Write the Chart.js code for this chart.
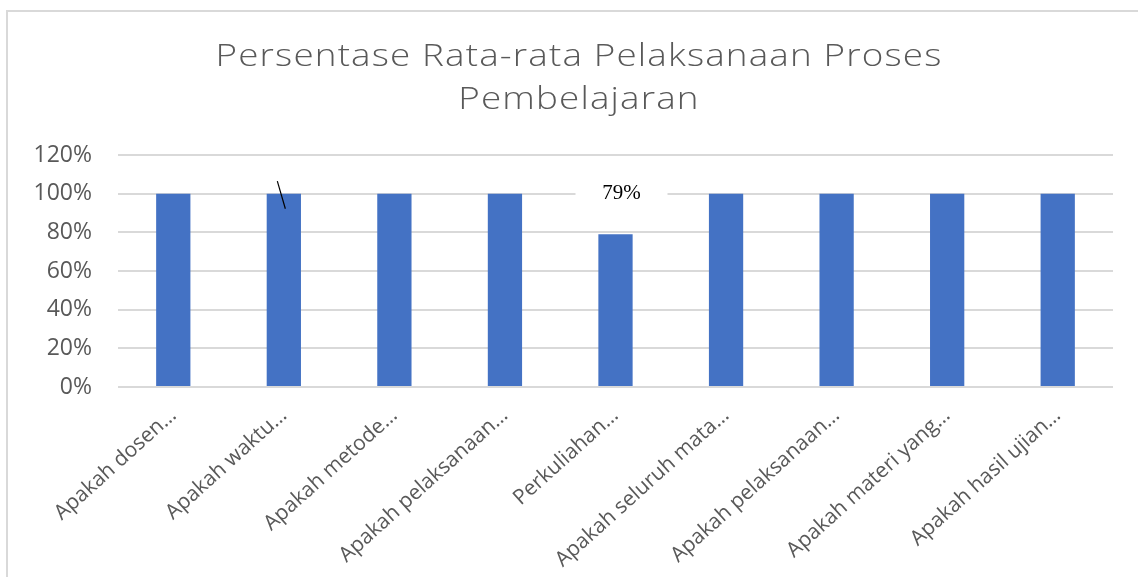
<!DOCTYPE html>
<html>
<head>
<meta charset="utf-8">
<script src="https://cdn.jsdelivr.net/npm/chart.js@4.4.1/dist/chart.umd.min.js"></script>
<style>
  html, body { margin: 0; padding: 0; background: #ffffff; }
  #wrap { position: relative; width: 1138px; height: 577px; overflow: hidden; }
  #frame { position: absolute; left: 6px; top: 10px; width: 1200px; height: 600px;
           border-top: 2px solid #d9d9d9; border-left: 2px solid #d9d9d9; box-sizing: border-box; }
  canvas { position: absolute; left: 0; top: 0; }
</style>
</head>
<body>
<div id="wrap">
  <div id="frame"></div>
  <canvas id="c" width="1138" height="577"></canvas>
</div>
<script>
const titleLines = ['Persentase Rata-rata Pelaksanaan Proses', 'Pembelajaran'];
const categories = [
  'Apakah dosen\u2026',
  'Apakah waktu\u2026',
  'Apakah metode\u2026',
  'Apakah pelaksanaan\u2026',
  'Perkuliahan\u2026',
  'Apakah seluruh mata\u2026',
  'Apakah pelaksanaan\u2026',
  'Apakah materi yang\u2026',
  'Apakah hasil ujian\u2026'
];
const values = [1.00, 1.00, 1.00, 1.00, 0.79, 1.00, 1.00, 1.00, 1.00];
const yTicks = [0, 0.2, 0.4, 0.6, 0.8, 1.0, 1.2];
const labelledBars = [4];

const fmtPct = v => Math.round(v * 100) + '%';

const titleDraw = {
  id: 'titleDraw',
  afterDraw(chart) {
    const ctx = chart.ctx;
    ctx.save();
    ctx.fillStyle = '#595959';
    ctx.font = '300 32px "Open Sans"';
    ctx.letterSpacing = '1px';
    ctx.textAlign = 'center';
    ctx.textBaseline = 'alphabetic';
    ctx.translate(579, 0);
    ctx.scale(1.15, 1);
    titleLines.forEach((t, i) => ctx.fillText(t, 0, 66 + i * 43));
    ctx.restore();
  }
};

const annotate = {
  id: 'annotate',
  afterDatasetsDraw(chart) {
    const ctx = chart.ctx;
    const y = chart.scales.y;
    const meta = chart.getDatasetMeta(0);
    // stray stroke next to the second bar
    const b1 = meta.data[1];
    ctx.save();
    ctx.strokeStyle = '#000000';
    ctx.lineWidth = 1.2;
    ctx.beginPath();
    ctx.moveTo(b1.x - 6.5, y.getPixelForValue(1.065));
    ctx.lineTo(b1.x + 1.5, y.getPixelForValue(0.922));
    ctx.stroke();
    ctx.restore();
    // data label(s)
    labelledBars.forEach(i => {
      const bar = meta.data[i];
      const cx = bar.x + 6;
      const cy = y.getPixelForValue(Math.max(...values));
      ctx.save();
      ctx.fillStyle = '#ffffff';
      ctx.fillRect(cx - 46, cy - 13, 92, 26);
      ctx.fillStyle = '#000000';
      ctx.font = '21px "Liberation Serif", "Times New Roman", serif';
      ctx.textAlign = 'center';
      ctx.textBaseline = 'middle';
      ctx.fillText(fmtPct(values[i]), cx, cy);
      ctx.restore();
    });
  }
};

new Chart(document.getElementById('c'), {
  type: 'bar',
  data: {
    labels: categories,
    datasets: [{
      data: values,
      backgroundColor: '#4472c4',
      borderWidth: 0,
      categoryPercentage: 1.0,
      barPercentage: 0.31
    }]
  },
  options: {
    responsive: false,
    animation: false,
    events: [],
    layout: { padding: { left: 0, right: 25, top: 155, bottom: 0 } },
    plugins: {
      legend: { display: false },
      tooltip: { enabled: false },
      title: { display: false }
    },
    scales: {
      y: {
        min: 0,
        max: 1.2,
        afterBuildTicks: s => { s.ticks = yTicks.map(v => ({ value: v })); },
        afterFit: s => { s.width = 118; },
        ticks: {
          callback: v => fmtPct(v),
          color: '#595959',
          font: { family: '"Open Sans"', size: 23 },
          padding: 26
        },
        grid: { color: '#d9d9d9', lineWidth: 2, drawTicks: false },
        border: { display: false }
      },
      x: {
        afterFit: s => { s.height = 190; },
        ticks: {
          autoSkip: false,
          maxRotation: 42,
          minRotation: 42,
          color: '#595959',
          font: { family: '"Open Sans"', size: 21 },
          padding: 8
        },
        grid: { display: false },
        border: { display: false }
      }
    }
  },
  plugins: [annotate, titleDraw]
});
</script>
</body>
</html>
